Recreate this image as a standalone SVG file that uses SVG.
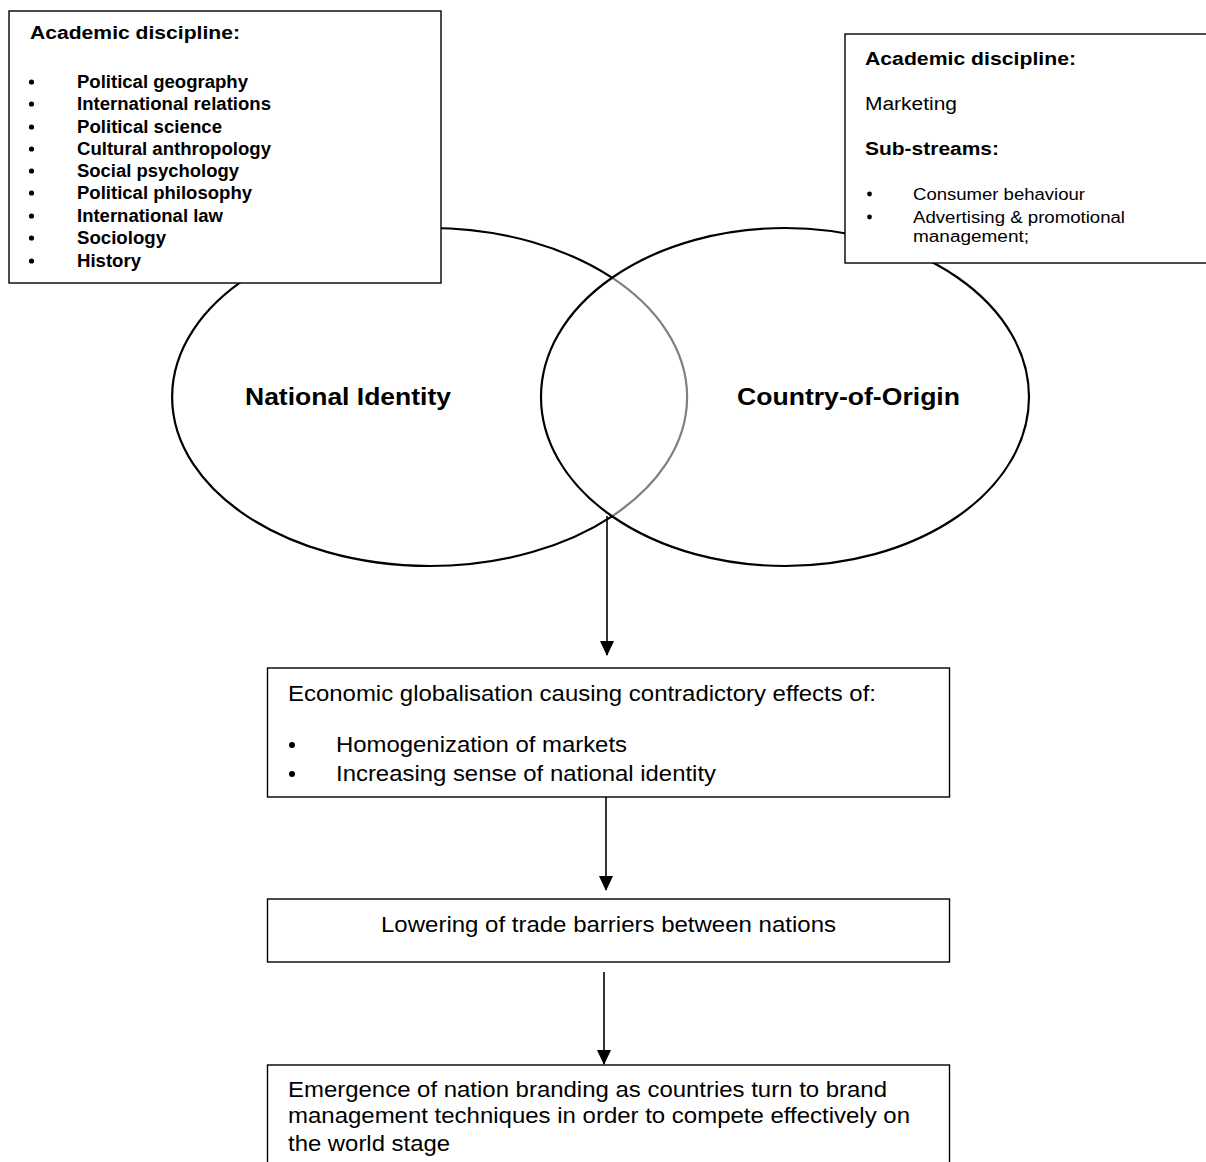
<svg xmlns="http://www.w3.org/2000/svg" width="1206" height="1162" viewBox="0 0 1206 1162">
  <style>
    .box { fill: #fff; stroke: #000; stroke-width: 1.4; }
    .ell { fill: none; stroke: #000; stroke-width: 2.2; }
    .ell-inner { fill: none; stroke: #808080; stroke-width: 2.2; }
    .t { font-family: "Liberation Sans", Arial, sans-serif; fill: #000; }
    .b { font-weight: bold; }
    .link { stroke: #000; stroke-width: 1.6; fill: none; }
  </style>
  <defs>
    <marker id="arrow" markerUnits="userSpaceOnUse" markerWidth="16" markerHeight="16" viewBox="0 0 16 16" refX="14" refY="8" orient="auto">
      <path d="M0,1 L15,8 L0,15 Z" fill="#000"/>
    </marker>
  </defs>

  <rect width="1206" height="1162" fill="#fff"/>

  <!-- Venn circles -->
  <g id="venn">
    <g id="national-identity">
      <path class="ell" d="M612,277.7 A257.5,169 0 1 0 612,516.3"/>
      <path class="ell-inner" d="M612,277.7 A257.5,169 0 0 1 612,516.3"/>
      <text class="t b" x="348" y="405" font-size="24" text-anchor="middle" textLength="206" lengthAdjust="spacingAndGlyphs">National Identity</text>
    </g>
    <g id="country-of-origin">
      <ellipse class="ell" cx="785" cy="397" rx="244" ry="169"/>
      <text class="t b" x="848.5" y="405" font-size="24" text-anchor="middle" textLength="223" lengthAdjust="spacingAndGlyphs">Country-of-Origin</text>
    </g>
  </g>

  <!-- Discipline boxes -->
  <g id="disciplines-left">
    <rect class="box" x="9" y="11" width="432" height="272"/>
    <text class="t b" x="30" y="39" font-size="18" textLength="210" lengthAdjust="spacingAndGlyphs">Academic discipline:</text>
    <g class="t b" font-size="18">
      <text x="77" y="88" textLength="171" lengthAdjust="spacingAndGlyphs">Political geography</text>
      <text x="77" y="110" textLength="194" lengthAdjust="spacingAndGlyphs">International relations</text>
      <text x="77" y="133" textLength="145" lengthAdjust="spacingAndGlyphs">Political science</text>
      <text x="77" y="155" textLength="194" lengthAdjust="spacingAndGlyphs">Cultural anthropology</text>
      <text x="77" y="177" textLength="162" lengthAdjust="spacingAndGlyphs">Social psychology</text>
      <text x="77" y="199" textLength="175" lengthAdjust="spacingAndGlyphs">Political philosophy</text>
      <text x="77" y="222" textLength="146" lengthAdjust="spacingAndGlyphs">International law</text>
      <text x="77" y="244" textLength="89" lengthAdjust="spacingAndGlyphs">Sociology</text>
      <text x="77" y="267" textLength="64" lengthAdjust="spacingAndGlyphs">History</text>
    </g>
    <g fill="#000">
      <circle cx="31.5" cy="82" r="2.6"/>
      <circle cx="31.5" cy="104" r="2.6"/>
      <circle cx="31.5" cy="127" r="2.6"/>
      <circle cx="31.5" cy="149" r="2.6"/>
      <circle cx="31.5" cy="171" r="2.6"/>
      <circle cx="31.5" cy="193" r="2.6"/>
      <circle cx="31.5" cy="216" r="2.6"/>
      <circle cx="31.5" cy="238" r="2.6"/>
      <circle cx="31.5" cy="261" r="2.6"/>
    </g>
  </g>

  <g id="disciplines-right">
    <rect class="box" x="845" y="34" width="380" height="229"/>
    <text class="t b" x="865" y="65" font-size="18" textLength="211" lengthAdjust="spacingAndGlyphs">Academic discipline:</text>
    <text class="t" x="865" y="110" font-size="18" textLength="92" lengthAdjust="spacingAndGlyphs">Marketing</text>
    <text class="t b" x="865" y="155" font-size="18" textLength="134" lengthAdjust="spacingAndGlyphs">Sub-streams:</text>
    <g class="t" font-size="16">
      <text x="913" y="200" textLength="172" lengthAdjust="spacingAndGlyphs">Consumer behaviour</text>
      <text x="913" y="223" textLength="212" lengthAdjust="spacingAndGlyphs">Advertising &amp; promotional</text>
      <text x="913" y="242" textLength="116" lengthAdjust="spacingAndGlyphs">management;</text>
    </g>
    <g fill="#000">
      <circle cx="869.5" cy="194" r="2.4"/>
      <circle cx="869.5" cy="217" r="2.4"/>
    </g>
  </g>

  <!-- Flow boxes -->
  <g id="globalisation">
    <rect class="box" x="267.5" y="668" width="682" height="129"/>
    <text class="t" x="288" y="701" font-size="22" textLength="588" lengthAdjust="spacingAndGlyphs">Economic globalisation causing contradictory effects of:</text>
    <text class="t" x="336" y="752" font-size="22" textLength="291" lengthAdjust="spacingAndGlyphs">Homogenization of markets</text>
    <text class="t" x="336" y="781" font-size="22" textLength="380" lengthAdjust="spacingAndGlyphs">Increasing sense of national identity</text>
    <circle cx="292" cy="745" r="3" fill="#000"/>
    <circle cx="292" cy="774" r="3" fill="#000"/>
  </g>

  <g id="trade-barriers">
    <rect class="box" x="267.5" y="899" width="682" height="63"/>
    <text class="t" x="608.5" y="932" font-size="22" text-anchor="middle" textLength="455" lengthAdjust="spacingAndGlyphs">Lowering of trade barriers between nations</text>
  </g>

  <g id="nation-branding">
    <rect class="box" x="267.5" y="1065" width="682" height="110"/>
    <text class="t" x="288" y="1097" font-size="22" textLength="599" lengthAdjust="spacingAndGlyphs">Emergence of nation branding as countries turn to brand</text>
    <text class="t" x="288" y="1123" font-size="22" textLength="622" lengthAdjust="spacingAndGlyphs">management techniques in order to compete effectively on</text>
    <text class="t" x="288" y="1151" font-size="22" textLength="162" lengthAdjust="spacingAndGlyphs">the world stage</text>
  </g>

  <!-- Connectors -->
  <g id="connectors">
    <path class="link" d="M607,516 L607,655" marker-end="url(#arrow)"/>
    <path class="link" d="M606,797 L606,890" marker-end="url(#arrow)"/>
    <path class="link" d="M604,972 L604,1064" marker-end="url(#arrow)"/>
  </g>
</svg>
